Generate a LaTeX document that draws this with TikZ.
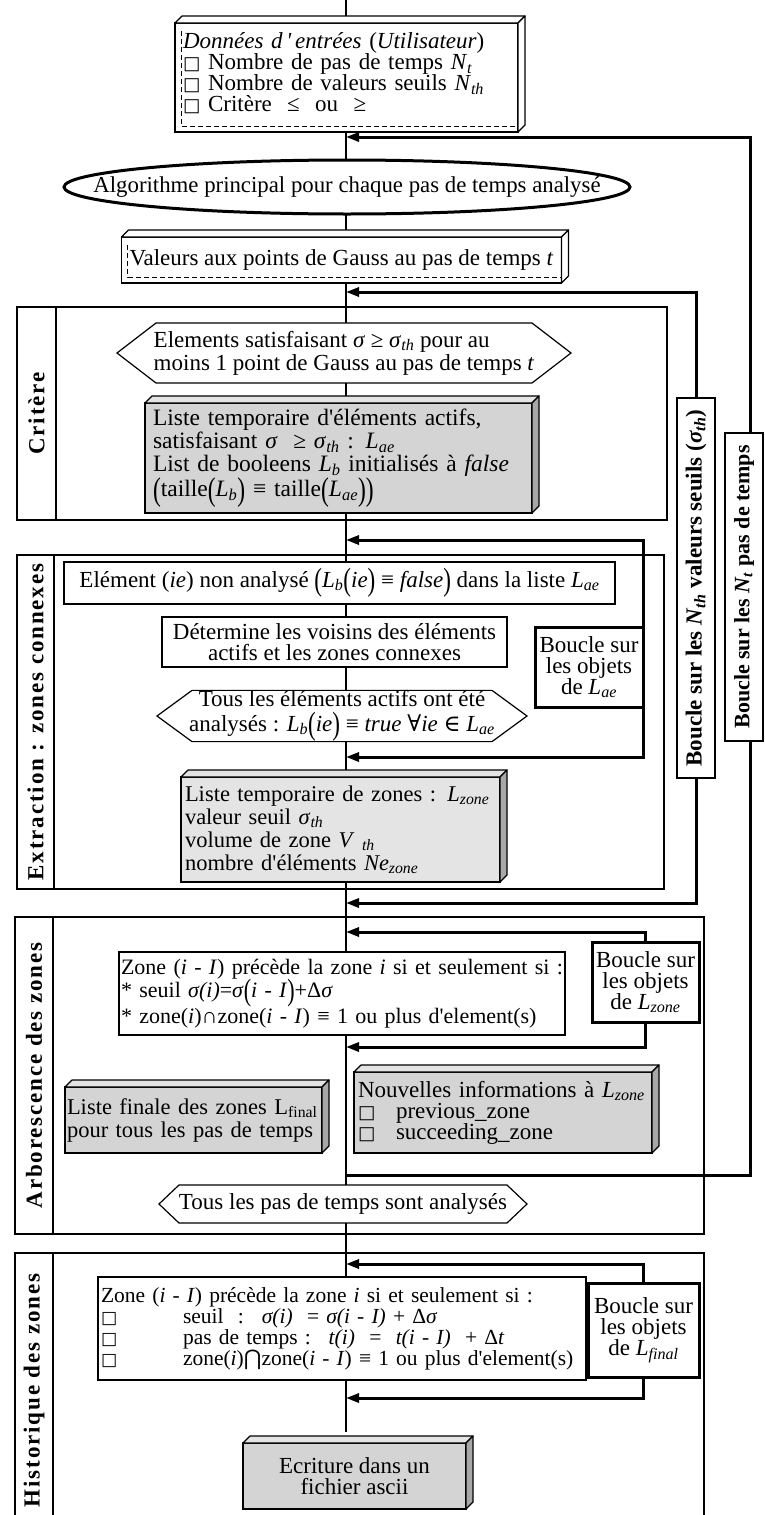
\documentclass[tikz,border=0pt]{standalone}
\usepackage{fontspec}
\usepackage{graphicx}
\setmainfont{Liberation Serif}
\newfontfamily\symf{DejaVu Serif}
\newfontfamily\symsans{DejaVu Sans}
\usetikzlibrary{arrows.meta}
\definecolor{grayA}{HTML}{D4D4D4}
\definecolor{grayB}{HTML}{E4E4E4}
\definecolor{grayT}{HTML}{E4E4E4}
\definecolor{grayS}{HTML}{A8A8A8}
\newcommand\sq{{\symf\scalebox{0.8}{□}}}
\newcommand\ap{\textquotesingle}
\newcommand\sbi[1]{\textsubscript{\textit{#1}}}
\newcommand\Ls[1]{\textit{L}\sbi{#1}}
\newcommand\bp[1]{\raisebox{-0.16em}{\scalebox{1}[1.4]{#1}}}
\newcommand\lblfont{\fontsize{23}{23}\selectfont\bfseries\addfontfeature{LetterSpace=8}}
\newcommand\threed[3]{%
  \filldraw[line width=1.2pt, fill=#2, line join=round] (#1.north west) -- ++(7,-7) -- ([shift={(7,-7)}]#1.north east) -- (#1.north east) -- cycle;
  \filldraw[line width=1.2pt, fill=#3, line join=round] (#1.north east) -- ([shift={(7,-7)}]#1.north east) -- ([shift={(7,-7)}]#1.south east) -- (#1.south east) -- cycle;}
\newcommand\inset[1]{\draw[line width=0.9pt, dash pattern=on 5pt off 3pt] ([shift={(6,8)}]#1.north west) -- ([shift={(6,-6)}]#1.south west) -- ([shift={(-1,-6)}]#1.south east);}
\newcommand\hexa[2]{\draw[line width=1.2pt] (#1.west) -- ([xshift=#2pt]#1.north west) -- ([xshift=-#2pt]#1.north east) -- (#1.east) -- ([xshift=-#2pt]#1.south east) -- ([xshift=#2pt]#1.south west) -- cycle;}
\begin{document}
\begin{tikzpicture}[x=1pt,y=-1pt,
  every node/.style={font=\fontsize{23}{21}\selectfont, inner sep=0pt, outer sep=0pt},
  box/.style={draw, line width=1.2pt, fill=white, inner xsep=8pt},
  frame/.style={draw, line width=1.3pt},
  lbl/.style={draw, line width=1.3pt, rotate=90, font=\lblfont},
  rlbl/.style={draw, line width=1.2pt, fill=white, rotate=90},
  boucle/.style={draw, line width=3pt, fill=white, align=center},
  mainline/.style={line width=1.1pt},
  loopl/.style={line width=3pt},
  arr/.style={-{Triangle[length=13pt,width=9pt]}}
]
\useasboundingbox (0,0) rectangle (765,1515);
\coordinate (mx) at (346,0);
\coordinate (top) at (346,0);
\coordinate (xnt) at (750,0);
\foreach \y in {137,292,540,757,903,932,1047,1175,1264,1398} {\coordinate (j\y) at (346,\y);}

% ---------- frames ----------
\node[frame, minimum width=611pt, minimum height=213pt] (fcrit) at (361.5,413.5) {};
\node[lbl, minimum width=213pt, minimum height=39pt] (lcrit) at (36.5,413.5) {Critère};
\node[frame, minimum width=610pt, minimum height=334pt] (fext) at (359,722) {};
\node[lbl, minimum width=334pt, minimum height=37pt] (lext) at (35.5,722) {Extraction : zones connexes};
\node[frame, minimum width=651pt, minimum height=317pt] (farb) at (378.5,1075.5) {};
\node[lbl, minimum width=317pt, minimum height=38pt] (larb) at (34,1075.5) {Arborescence des zones};
\node[frame, minimum width=651pt, minimum height=275pt] (fhis) at (378.5,1390.5) {};
\node[lbl, minimum width=275pt, minimum height=38pt] (lhis) at (34,1390.5) {Historique des zones};

% ---------- top ----------
\node[box, minimum width=343pt, minimum height=109pt, align=left, text width=327pt] (inp) at (346.5,77.5)
 {\textit{Données d\,\ap\,entrées} (\textit{Utilisateur})\\
  \sq\ Nombre de pas de temps \textit{N}\sbi{t}\\
  \sq\ Nombre de valeurs seuils \textit{N}\sbi{th}\\
  \sq\ Critère \ ≤ \ ou \ ≥\rule[-10pt]{0pt}{0pt}};
\threed{inp}{white}{white}
\inset{inp}

\node[minimum width=566pt, minimum height=54pt, font=\fontsize{22.8}{21}\selectfont] (alg) at (347,187)
 {Algorithme principal pour chaque pas de temps analysé};
\draw[line width=3pt] (alg.center) ellipse [x radius=283pt, y radius=27pt];

\node[box, minimum width=439pt, minimum height=46pt] (gauss) at (341.5,260)
 {Valeurs aux points de Gauss au pas de temps \textit{t}};
\threed{gauss}{white}{white}
\inset{gauss}

% ---------- Critere ----------
\node[minimum width=454pt, minimum height=60pt, align=left, font=\fontsize{23}{23}\selectfont] (hx1) at (344,353)
 {Elements satisfaisant \textit{σ} ≥ \textit{σ}\sbi{th} pour au\\
  moins 1 point de Gauss au pas de temps \textit{t}};
\hexa{hx1}{39}

\node[box, fill=grayA, inner xsep=8pt, minimum width=387pt, minimum height=110pt, align=left, text width=371pt,
  font=\fontsize{23.5}{23}\selectfont] (lst1) at (338.5,458)
 {Liste temporaire d\ap éléments actifs,\\
  satisfaisant \textit{σ} \ ≥ \textit{σ}\sbi{th} : \Ls{ae}\\
  List de booleens \Ls{b} initialisés à \textit{false}\\
  \bp{(}taille\bp{(}\Ls{b}\bp{)} ≡ taille\bp{(}\Ls{ae}\bp{)}\bp{)}};
\threed{lst1}{grayT}{grayS}

% ---------- Extraction ----------
\node[box, inner xsep=3pt, minimum width=551pt, minimum height=42pt] (elem) at (339.5,583)
 {Elément (\textit{ie}) non analysé \bp{(}\Ls{b}\bp{(}\textit{ie}\bp{)} ≡ \textit{false}\bp{)} dans la liste \Ls{ae}};
\node[box, minimum width=345pt, minimum height=50pt, align=center] (det) at (334.5,642)
 {Détermine les voisins des éléments\\ actifs et les zones connexes};
\node[boucle, minimum width=108pt, minimum height=80pt] (bae) at (589,667)
 {Boucle sur\\ les objets\\ de \Ls{ae}};
\node[minimum width=370pt, minimum height=50pt, align=center, font=\fontsize{23}{24.5}\selectfont] (hx2) at (342,716)
 {Tous les éléments actifs ont été\\
  analysés : \Ls{b}\bp{(}\textit{ie}\bp{)} ≡ \textit{true} {\symf ∀}\textit{ie} {\symf ∈} \Ls{ae}};
\hexa{hx2}{35}

\node[box, fill=grayB, inner xsep=4pt, minimum width=319pt, minimum height=105pt, align=left, text width=311pt,
  font=\fontsize{22.5}{23}\selectfont] (lst2) at (340.5,829.5)
 {Liste temporaire de zones : \Ls{zone}\\
  valeur seuil \textit{σ}\sbi{th}\\
  volume de zone \textit{V}\sbi{ th}\\
  nombre d\ap éléments \textit{Ne}\sbi{zone}};
\threed{lst2}{grayT}{grayS}

% ---------- Arborescence ----------
\node[box, inner xsep=2pt, minimum width=444pt, minimum height=83pt, align=left, text width=442pt,
  font=\fontsize{22}{23}\selectfont] (zone2) at (342,993.5)
 {Zone (\textit{i} - \textit{I}) précède la zone \textit{i} si et seulement si :\\
  {*} seuil \textit{σ(i)}=\textit{σ}\bp{(}\textit{i} - \textit{I}\bp{)}+Δ\textit{σ}\\
  {*} zone(\textit{i})∩zone(\textit{i} - \textit{I}) ≡ 1 ou plus d\ap element(s)};
\node[boucle, minimum width=107pt, minimum height=80pt] (bz) at (645.5,982)
 {Boucle sur\\ les objets\\ de \Ls{zone}};

\node[box, fill=grayA, inner xsep=2pt, minimum width=257pt, minimum height=66pt, align=left, text width=253pt,
  font=\fontsize{22.5}{23}\selectfont] (fin) at (193.5,1120)
 {Liste finale des zones L\textsubscript{final}\\ pour tous les pas de temps};
\threed{fin}{grayT}{grayS}
\node[box, fill=grayA, inner xsep=4pt, minimum width=298pt, minimum height=81pt, align=left, text width=290pt] (nouv) at (503,1112.5)
 {Nouvelles informations à \Ls{zone}\\
  \makebox[38pt][l]{\sq}previous\_zone\\
  \makebox[38pt][l]{\sq}succeeding\_zone};
\threed{nouv}{grayT}{grayS}

\node[minimum width=368pt, minimum height=38pt] (hx3) at (343,1204)
 {Tous les pas de temps sont analysés};
\hexa{hx3}{20}

% ---------- Historique ----------
\node[box, inner xsep=3pt, minimum width=488pt, minimum height=103pt, align=left, text width=482pt,
  font=\fontsize{21.5}{21}\selectfont] (zone3) at (342,1328.5)
 {Zone (\textit{i} - \textit{I}) précède la zone \textit{i} si et seulement si :\\
  \makebox[82pt][l]{\sq}seuil \ : \ \textit{σ(i)} \ = \textit{σ(i} - \textit{I)} + Δ\textit{σ}\\
  \makebox[82pt][l]{\sq}pas de temps : \ \textit{t(i)} \ = \ \textit{t(i} - \textit{I)} \ + Δ\textit{t}\\
  \makebox[82pt][l]{\sq}zone(\textit{i}){\symsans ⋂}zone(\textit{i} - \textit{I}) ≡ 1 ou plus d\ap element(s)};
\node[boucle, minimum width=111pt, minimum height=94pt] (bf) at (643.5,1330)
 {Boucle sur\\ les objets\\ de \Ls{final}};

\node[box, fill=grayA, minimum width=223pt, minimum height=66pt, align=center, font=\fontsize{23}{21}\selectfont] (ecr) at (354.5,1476)
 {Ecriture dans un\\ fichier ascii};
\threed{ecr}{grayT}{grayS}

% ---------- loop labels ----------
\node[rlbl, minimum width=380pt, minimum height=38pt, font=\fontsize{23}{22}\selectfont\bfseries] (nth) at (696,588)
 {Boucle sur les \textit{N}\sbi{th} valeurs seuils (\textit{σ}\sbi{th})};
\node[rlbl, minimum width=308pt, minimum height=38pt, font=\fontsize{22}{22}\selectfont\bfseries] (nt) at (744,587)
 {Boucle sur les \textit{N}\sbi{t} pas de temps};

% ---------- main line ----------
\draw[mainline] (top) -- ([yshift=7pt]mx |- inp.north);
\draw[mainline] (mx |- inp.south) -- (mx |- alg.north);
\draw[mainline] (mx |- alg.south) -- ([yshift=7pt]mx |- gauss.north);
\draw[mainline] (mx |- gauss.south) -- (mx |- hx1.north);
\draw[mainline] (mx |- hx1.south) -- ([yshift=7pt]mx |- lst1.north);
\draw[mainline] (mx |- lst1.south) -- (mx |- elem.north);
\draw[mainline] (mx |- elem.south) -- (mx |- det.north);
\draw[mainline] (mx |- det.south) -- (mx |- hx2.north);
\draw[mainline] (mx |- hx2.south) -- ([yshift=7pt]mx |- lst2.north);
\draw[mainline] (mx |- lst2.south) -- (mx |- zone2.north);
\draw[mainline] (mx |- zone2.south) -- (mx |- hx3.north);
\draw[mainline] (mx |- hx3.south) -- (mx |- zone3.north);
\draw[mainline] (mx |- zone3.south) -- ([yshift=11pt]mx |- ecr.north);

% ---------- loops ----------
\draw[loopl] (j1175) -- (xnt |- j1175) -- (xnt |- nt.west);
\draw[loopl, arr] (xnt |- nt.east) -- (xnt |- j137) -- (j137);
\draw[loopl, arr] (nth.east) -- (nth.east |- j292) -- (j292);
\draw[loopl, arr] (nth.west) -- (nth.west |- j903) -- (j903);
\draw[loopl, arr] (bae.north east) -- (bae.north east |- j540) -- (j540);
\draw[loopl, arr] (bae.south east) -- (bae.south east |- j757) -- (j757);
\draw[loopl, arr] (bz.north) -- (bz.north |- j932) -- (j932);
\draw[loopl, arr] (bz.south) -- (bz.south |- j1047) -- (j1047);
\draw[loopl, arr] (bf.north) -- (bf.north |- j1264) -- (j1264);
\draw[loopl, arr] (bf.south) -- (bf.south |- j1398) -- (j1398);
\end{tikzpicture}
\end{document}
